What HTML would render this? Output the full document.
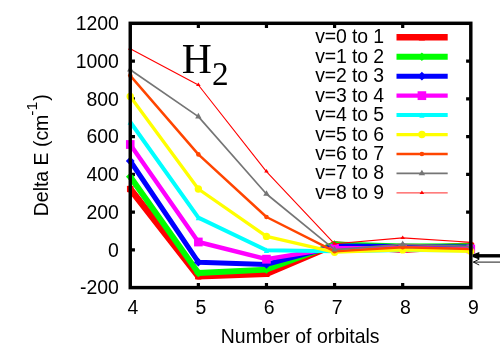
<!DOCTYPE html>
<html><head><meta charset="utf-8"><style>
html,body{margin:0;padding:0;background:#fff;}
body{width:500px;height:350px;overflow:hidden;}
svg{display:block;will-change:transform;}
.t{font-family:"Liberation Sans",sans-serif;font-size:19.44px;fill:#000;}
.h{font-family:"Liberation Serif",serif;font-size:41.67px;fill:#000;}
</style></head><body>
<svg width="500" height="350" viewBox="0 0 500 350">
<rect width="500" height="350" fill="#fff"/>
<path d="M130.25 249.84h4.7M470.8 249.84h-4.7M130.25 212.09h4.7M470.8 212.09h-4.7M130.25 174.33h4.7M470.8 174.33h-4.7M130.25 136.57h4.7M470.8 136.57h-4.7M130.25 98.81h4.7M470.8 98.81h-4.7M130.25 61.06h4.7M470.8 61.06h-4.7M198.36 287.6v-4.7M198.36 23.3v4.7M266.47 287.6v-4.7M266.47 23.3v4.7M334.58 287.6v-4.7M334.58 23.3v4.7M402.69 287.6v-4.7M402.69 23.3v4.7" stroke="#000" stroke-width="3.2" fill="none"/>
<polyline points="130.25,189.00 198.36,276.30 266.47,273.70 334.58,244.60 402.69,249.60 470.80,245.60" fill="none" stroke="#ff0000" stroke-width="6.6" stroke-linejoin="round" stroke-linecap="butt"/>
<rect x="126.95" y="185.80" width="6.6" height="6.4" rx="0.8" fill="#ff0000"/>
<rect x="195.06" y="273.10" width="6.6" height="6.4" rx="0.8" fill="#ff0000"/>
<rect x="263.17" y="270.50" width="6.6" height="6.4" rx="0.8" fill="#ff0000"/>
<rect x="331.28" y="241.40" width="6.6" height="6.4" rx="0.8" fill="#ff0000"/>
<rect x="399.39" y="246.40" width="6.6" height="6.4" rx="0.8" fill="#ff0000"/>
<rect x="467.50" y="242.40" width="6.6" height="6.4" rx="0.8" fill="#ff0000"/>
<line x1="396.5" y1="37.30" x2="447.7" y2="37.30" stroke="#ff0000" stroke-width="6.6"/>
<rect x="418.60" y="34.10" width="6.6" height="6.4" rx="0.8" fill="#ff0000"/>
<text x="384.0" y="43.30" text-anchor="end" class="t" letter-spacing="-0.12">v=0 to 1</text>
<polyline points="130.25,176.80 198.36,273.00 266.47,269.60 334.58,244.40 402.69,246.40 470.80,246.10" fill="none" stroke="#00ff00" stroke-width="5.8" stroke-linejoin="round" stroke-linecap="butt"/>
<path d="M130.25 172.60l4.3 4.2l-4.3 4.2l-4.3 -4.2Z" fill="#00ff00"/>
<path d="M198.36 268.80l4.3 4.2l-4.3 4.2l-4.3 -4.2Z" fill="#00ff00"/>
<path d="M266.47 265.40l4.3 4.2l-4.3 4.2l-4.3 -4.2Z" fill="#00ff00"/>
<path d="M334.58 240.20l4.3 4.2l-4.3 4.2l-4.3 -4.2Z" fill="#00ff00"/>
<path d="M402.69 242.20l4.3 4.2l-4.3 4.2l-4.3 -4.2Z" fill="#00ff00"/>
<path d="M470.80 241.90l4.3 4.2l-4.3 4.2l-4.3 -4.2Z" fill="#00ff00"/>
<line x1="396.5" y1="56.75" x2="447.7" y2="56.75" stroke="#00ff00" stroke-width="5.8"/>
<path d="M421.90 52.55l4.3 4.2l-4.3 4.2l-4.3 -4.2Z" fill="#00ff00"/>
<text x="384.0" y="62.75" text-anchor="end" class="t" letter-spacing="-0.12">v=1 to 2</text>
<polyline points="130.25,161.00 198.36,262.20 266.47,264.40 334.58,246.00 402.69,246.40 470.80,247.10" fill="none" stroke="#0000ff" stroke-width="5.0" stroke-linejoin="round" stroke-linecap="butt"/>
<path d="M130.25 156.60l4.4 4.4l-4.4 4.4l-4.4 -4.4Z" fill="#0000ff"/>
<path d="M198.36 257.80l4.4 4.4l-4.4 4.4l-4.4 -4.4Z" fill="#0000ff"/>
<path d="M266.47 260.00l4.4 4.4l-4.4 4.4l-4.4 -4.4Z" fill="#0000ff"/>
<path d="M334.58 241.60l4.4 4.4l-4.4 4.4l-4.4 -4.4Z" fill="#0000ff"/>
<path d="M402.69 242.00l4.4 4.4l-4.4 4.4l-4.4 -4.4Z" fill="#0000ff"/>
<path d="M470.80 242.70l4.4 4.4l-4.4 4.4l-4.4 -4.4Z" fill="#0000ff"/>
<line x1="396.5" y1="76.20" x2="447.7" y2="76.20" stroke="#0000ff" stroke-width="5.0"/>
<path d="M421.90 71.80l4.4 4.4l-4.4 4.4l-4.4 -4.4Z" fill="#0000ff"/>
<text x="384.0" y="82.20" text-anchor="end" class="t" letter-spacing="-0.12">v=2 to 3</text>
<polyline points="130.25,144.50 198.36,242.00 266.47,259.20 334.58,248.20 402.69,248.20 470.80,249.00" fill="none" stroke="#ff00ff" stroke-width="4.4" stroke-linejoin="round" stroke-linecap="butt"/>
<rect x="125.95" y="140.10" width="8.6" height="8.8" fill="#ff00ff"/>
<rect x="194.06" y="237.60" width="8.6" height="8.8" fill="#ff00ff"/>
<rect x="262.17" y="254.80" width="8.6" height="8.8" fill="#ff00ff"/>
<rect x="330.28" y="243.80" width="8.6" height="8.8" fill="#ff00ff"/>
<rect x="398.39" y="243.80" width="8.6" height="8.8" fill="#ff00ff"/>
<rect x="466.50" y="244.60" width="8.6" height="8.8" fill="#ff00ff"/>
<line x1="396.5" y1="95.65" x2="447.7" y2="95.65" stroke="#ff00ff" stroke-width="4.4"/>
<rect x="417.60" y="91.25" width="8.6" height="8.8" fill="#ff00ff"/>
<text x="384.0" y="101.65" text-anchor="end" class="t" letter-spacing="-0.12">v=3 to 4</text>
<polyline points="130.25,122.00 198.36,217.60 266.47,250.20 334.58,251.20 402.69,250.00 470.80,250.30" fill="none" stroke="#00ffff" stroke-width="4.0" stroke-linejoin="round" stroke-linecap="butt"/>
<path d="M127.65 124.70h5.2l-2.6 -5.3Z" fill="#00ffff"/>
<path d="M195.76 220.30h5.2l-2.6 -5.3Z" fill="#00ffff"/>
<path d="M263.87 252.90h5.2l-2.6 -5.3Z" fill="#00ffff"/>
<path d="M331.98 253.90h5.2l-2.6 -5.3Z" fill="#00ffff"/>
<path d="M400.09 252.70h5.2l-2.6 -5.3Z" fill="#00ffff"/>
<path d="M468.20 253.00h5.2l-2.6 -5.3Z" fill="#00ffff"/>
<line x1="396.5" y1="115.10" x2="447.7" y2="115.10" stroke="#00ffff" stroke-width="4.0"/>
<path d="M419.30 117.80h5.2l-2.6 -5.3Z" fill="#00ffff"/>
<text x="384.0" y="121.10" text-anchor="end" class="t" letter-spacing="-0.12">v=4 to 5</text>
<polyline points="130.25,96.40 198.36,189.00 266.47,236.40 334.58,252.20 402.69,249.90 470.80,251.35" fill="none" stroke="#ffff00" stroke-width="3.3" stroke-linejoin="round" stroke-linecap="butt"/>
<circle cx="130.25" cy="96.40" r="3.7" fill="#ffff00"/>
<circle cx="198.36" cy="189.00" r="3.7" fill="#ffff00"/>
<circle cx="266.47" cy="236.40" r="3.7" fill="#ffff00"/>
<circle cx="334.58" cy="252.20" r="3.7" fill="#ffff00"/>
<circle cx="402.69" cy="249.90" r="3.7" fill="#ffff00"/>
<circle cx="470.80" cy="251.35" r="3.7" fill="#ffff00"/>
<line x1="396.5" y1="134.55" x2="447.7" y2="134.55" stroke="#ffff00" stroke-width="3.3"/>
<circle cx="421.90" cy="134.55" r="3.7" fill="#ffff00"/>
<text x="384.0" y="140.55" text-anchor="end" class="t" letter-spacing="-0.12">v=5 to 6</text>
<polyline points="130.25,75.60 198.36,154.40 266.47,217.00 334.58,251.30 402.69,247.20 470.80,249.00" fill="none" stroke="#ff4500" stroke-width="2.45" stroke-linejoin="round" stroke-linecap="butt"/>
<circle cx="130.25" cy="75.60" r="2.3" fill="#ff4500"/>
<circle cx="198.36" cy="154.40" r="2.3" fill="#ff4500"/>
<circle cx="266.47" cy="217.00" r="2.3" fill="#ff4500"/>
<circle cx="334.58" cy="251.30" r="2.3" fill="#ff4500"/>
<circle cx="402.69" cy="247.20" r="2.3" fill="#ff4500"/>
<circle cx="470.80" cy="249.00" r="2.3" fill="#ff4500"/>
<line x1="396.5" y1="154.00" x2="447.7" y2="154.00" stroke="#ff4500" stroke-width="2.45"/>
<circle cx="421.90" cy="154.00" r="2.3" fill="#ff4500"/>
<text x="384.0" y="160.00" text-anchor="end" class="t" letter-spacing="-0.12">v=6 to 7</text>
<polyline points="130.25,69.80 198.36,116.60 266.47,194.00 334.58,249.70 402.69,244.40 470.80,246.40" fill="none" stroke="#757575" stroke-width="1.66" stroke-linejoin="round" stroke-linecap="butt"/>
<path d="M127.05 71.60h6.4l-3.2 -5.6Z" fill="#757575"/>
<path d="M195.16 118.40h6.4l-3.2 -5.6Z" fill="#757575"/>
<path d="M263.27 195.80h6.4l-3.2 -5.6Z" fill="#757575"/>
<path d="M331.38 251.50h6.4l-3.2 -5.6Z" fill="#757575"/>
<path d="M399.49 246.20h6.4l-3.2 -5.6Z" fill="#757575"/>
<path d="M467.60 248.20h6.4l-3.2 -5.6Z" fill="#757575"/>
<line x1="396.5" y1="173.45" x2="447.7" y2="173.45" stroke="#757575" stroke-width="1.66"/>
<path d="M418.70 175.25h6.4l-3.2 -5.6Z" fill="#757575"/>
<text x="384.0" y="179.45" text-anchor="end" class="t" letter-spacing="-0.12">v=7 to 8</text>
<polyline points="130.25,48.70 198.36,85.00 266.47,171.60 334.58,243.80 402.69,237.90 470.80,242.20" fill="none" stroke="#ff0000" stroke-width="1.1" stroke-linejoin="round" stroke-linecap="butt"/>
<path d="M127.95 49.70h4.6l-2.3 -3.5Z" fill="#ff0000"/>
<path d="M196.06 86.00h4.6l-2.3 -3.5Z" fill="#ff0000"/>
<path d="M264.17 172.60h4.6l-2.3 -3.5Z" fill="#ff0000"/>
<path d="M332.28 244.80h4.6l-2.3 -3.5Z" fill="#ff0000"/>
<path d="M400.39 238.90h4.6l-2.3 -3.5Z" fill="#ff0000"/>
<path d="M468.50 243.20h4.6l-2.3 -3.5Z" fill="#ff0000"/>
<line x1="396.5" y1="192.90" x2="447.7" y2="192.90" stroke="#ff0000" stroke-width="0.85"/>
<path d="M419.60 193.90h4.6l-2.3 -3.5Z" fill="#ff0000"/>
<text x="384.0" y="198.90" text-anchor="end" class="t" letter-spacing="-0.12">v=8 to 9</text>
<rect x="130.25" y="23.3" width="340.55" height="264.30" fill="none" stroke="#000" stroke-width="3.45"/>
<text x="118.9" y="294.30" text-anchor="end" class="t">-200</text>
<text x="118.9" y="256.54" text-anchor="end" class="t">0</text>
<text x="118.9" y="218.79" text-anchor="end" class="t">200</text>
<text x="118.9" y="181.03" text-anchor="end" class="t">400</text>
<text x="118.9" y="143.27" text-anchor="end" class="t">600</text>
<text x="118.9" y="105.51" text-anchor="end" class="t">800</text>
<text x="118.9" y="67.76" text-anchor="end" class="t">1000</text>
<text x="118.9" y="30.00" text-anchor="end" class="t">1200</text>
<text x="132.85" y="313.5" text-anchor="middle" class="t">4</text>
<text x="200.96" y="313.5" text-anchor="middle" class="t">5</text>
<text x="269.07" y="313.5" text-anchor="middle" class="t">6</text>
<text x="337.18" y="313.5" text-anchor="middle" class="t">7</text>
<text x="405.29" y="313.5" text-anchor="middle" class="t">8</text>
<text x="473.40" y="313.5" text-anchor="middle" class="t">9</text>
<text x="300.2" y="342.6" text-anchor="middle" class="t">Number of orbitals</text>
<text transform="translate(48.3,155.3) rotate(-90)" text-anchor="middle" class="t">Delta E (cm<tspan dy="-11.5" dx="-1" font-size="15.55">-1</tspan><tspan dy="11.5" dx="1">)</tspan></text>
<text x="181.8" y="73.1" class="h">H<tspan dy="11.9" font-size="33.3">2</tspan></text>
<path d="M500 255.8H477" stroke="#000" stroke-width="3.4" fill="none"/><path d="M472.6 254.6L479.3 252.0V259.6L472.6 257Z" fill="#000"/>
<path d="M500 262.1H473.4M479.2 259.2L473.4 262.1L479.2 265" stroke="#000" stroke-width="0.9" fill="none" stroke-linejoin="miter"/>
</svg>
</body></html>
